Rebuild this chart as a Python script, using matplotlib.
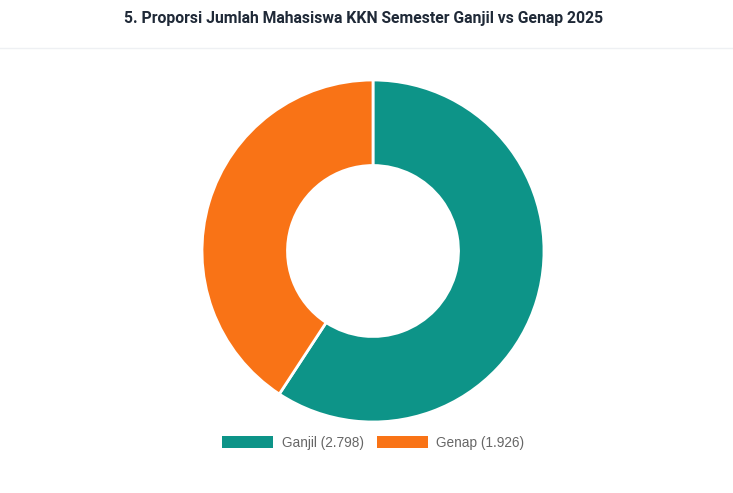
import matplotlib
matplotlib.use("Agg")
import matplotlib.pyplot as plt
from matplotlib.patches import Patch
from matplotlib.lines import Line2D

# data
labels = ["Ganjil", "Genap"]
values = [2798, 1926]
colors = ["#0d9488", "#f97316"]
title = "5. Proporsi Jumlah Mahasiswa KKN Semester Ganjil vs Genap 2025"

W, H = 733, 493
fig = plt.figure(figsize=(W / 100, H / 100), dpi=100)
fig.patch.set_facecolor("white")

# title and separator line
fig.text(363.5 / W, 1 - 18 / H, title, ha="center", va="center",
         fontsize=11.3, fontweight="bold", color="#1f2937",
         family="Roboto")
fig.add_artist(Line2D([0, 1], [1 - 48 / H, 1 - 48 / H], color="#eef0f3", lw=1))

# donut
cx, cy, r = 373, 251, 171
ax = fig.add_axes([(cx - r) / W, (H - cy - r) / H, 2 * r / W, 2 * r / H])
wedges, _ = ax.pie(values, colors=colors, startangle=90, counterclock=False,
                   radius=1.0, wedgeprops=dict(width=0.5, edgecolor="white", linewidth=2))
for w in wedges:
    w.set_clip_on(False)
ax.set_xlim(-1, 1)
ax.set_ylim(-1, 1)
ax.set_aspect("equal")
ax.axis("off")

# legend
def fmt(v):
    return f"{v:,}".replace(",", ".")

handles = [Patch(facecolor=c, edgecolor="none") for c in colors]
leg_labels = [f"{l} ({fmt(v)})" for l, v in zip(labels, values)]
leg = fig.legend(handles, leg_labels, loc="center", bbox_to_anchor=(373.5 / W, 1 - 443 / H),
                 ncol=2, frameon=False, handlelength=3.7, handleheight=0.95,
                 handletextpad=0.65, columnspacing=1.0, labelcolor="#666666",
                 prop={"family": "Liberation Sans", "size": 9.8})

fig.savefig("out.png", dpi=100, facecolor="white")
